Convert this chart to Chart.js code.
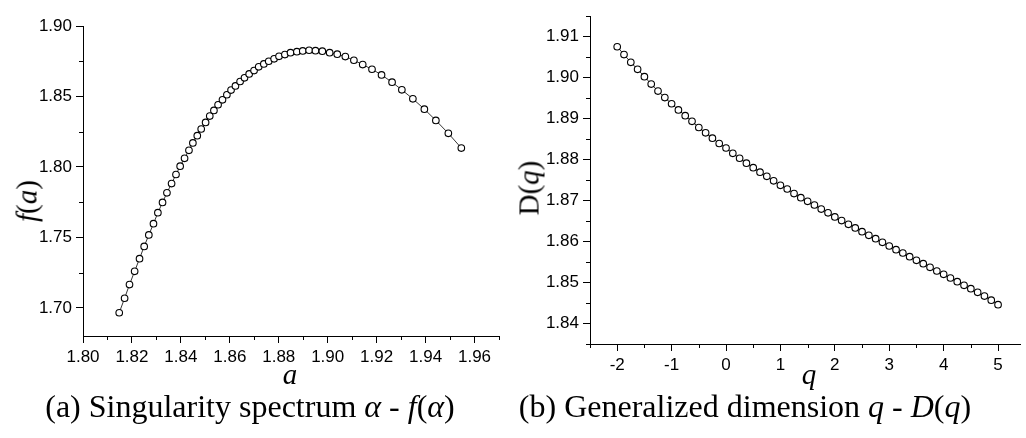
<!DOCTYPE html>
<html>
<head>
<meta charset="utf-8">
<script src="https://cdn.jsdelivr.net/npm/chart.js@4.4.1/dist/chart.umd.min.js"></script>
<style>
  body { margin: 0; background: #fff; }
  #wrap { position: relative; width: 1026px; height: 438px; overflow: hidden; }
  .panel { position: absolute; top: 0; width: 513px; height: 438px; }
  .txt { position: absolute; font-family: "Liberation Serif", "Times New Roman", serif; color: #000; white-space: nowrap; line-height: 1; }
  .ytitle { font-size: 29px; transform: translate(-50%, -50%) rotate(-90deg); }
  .xtitle { font-size: 29px; transform: translateX(-50%); }
  .caption { font-size: 32px; transform: translateX(-50%); }
</style>
</head>
<body>
<div id="wrap">
  <div class="panel" style="left:0"><canvas id="chartA" width="513" height="438"></canvas></div>
  <div class="panel" style="left:513px"><canvas id="chartB" width="513" height="438"></canvas></div>

  <div class="txt ytitle" style="left:27px; top:201px"><i>f</i>(<i>a</i>)</div>
  <div class="txt xtitle" style="left:290px; top:360px"><i>a</i></div>
  <div class="txt caption" style="left:250px; top:390px">(a) Singularity spectrum <i>α</i> - <i>f</i>(<i>α</i>)</div>

  <div class="txt ytitle" style="left:529px; top:188px">D(<i>q</i>)</div>
  <div class="txt xtitle" style="left:809px; top:360px"><i>q</i></div>
  <div class="txt caption" style="left:745px; top:390px">(b) Generalized dimension <i>q</i> - <i>D</i>(<i>q</i>)</div>
</div>

<script>
// (a) singularity spectrum
const alphaVals = [1.8148,1.8170,1.8190,1.8211,1.8231,1.8250,1.8269,1.8288,1.8306,1.8325,
  1.8343,1.8362,1.8380,1.8397,1.8415,1.8433,1.8449,1.8467,1.8483,1.8501,
  1.8518,1.8535,1.8552,1.8570,1.8588,1.8605,1.8623,1.8642,1.8660,1.8679,
  1.8699,1.8718,1.8739,1.8759,1.8781,1.8801,1.8825,1.8848,1.8874,1.8898,
  1.8924,1.8950,1.8978,1.9008,1.9039,1.9072,1.9107,1.9143,1.9181,1.9220,
  1.9263,1.9303,1.9348,1.9395,1.9442,1.9493,1.9546];
const fAlphaVals = [1.6965,1.7068,1.7165,1.7259,1.7349,1.7436,1.7517,1.7597,1.7675,1.7748,
  1.7816,1.7882,1.7946,1.8005,1.8061,1.8118,1.8170,1.8222,1.8269,1.8316,
  1.8361,1.8401,1.8441,1.8476,1.8512,1.8545,1.8575,1.8606,1.8632,1.8660,
  1.8684,1.8710,1.8731,1.8750,1.8767,1.8785,1.8797,1.8811,1.8818,1.8823,
  1.8828,1.8825,1.8821,1.8811,1.8800,1.8783,1.8757,1.8726,1.8693,1.8653,
  1.8601,1.8547,1.8483,1.8410,1.8330,1.8238,1.8134];
const alphaTicks = [1.80, 1.82, 1.84, 1.86, 1.88, 1.90, 1.92, 1.94, 1.96];
const fAlphaTicks = [1.70, 1.75, 1.80, 1.85, 1.90];

// (b) generalized dimension
const qVals = [-2,-1.875,-1.75,-1.625,-1.5,-1.375,-1.25,-1.125,-1,-0.875,
  -0.75,-0.625,-0.5,-0.375,-0.25,-0.125,0,0.125,0.25,0.375,
  0.5,0.625,0.75,0.875,1,1.125,1.25,1.375,1.5,1.625,
  1.75,1.875,2,2.125,2.25,2.375,2.5,2.625,2.75,2.875,
  3,3.125,3.25,3.375,3.5,3.625,3.75,3.875,4,4.125,
  4.25,4.375,4.5,4.625,4.75,4.875,5];
const dqVals = [1.9075,1.9056,1.9037,1.9020,1.9002,1.8984,1.8967,1.8951,1.8936,1.8921,
  1.8907,1.8893,1.8878,1.8865,1.8852,1.8839,1.8828,1.8815,1.8803,1.8791,
  1.8780,1.8769,1.8759,1.8748,1.8737,1.8728,1.8717,1.8707,1.8698,1.8689,
  1.8679,1.8670,1.8660,1.8651,1.8642,1.8633,1.8624,1.8615,1.8607,1.8598,
  1.8589,1.8580,1.8572,1.8563,1.8554,1.8546,1.8537,1.8528,1.8520,1.8511,
  1.8502,1.8493,1.8485,1.8476,1.8467,1.8457,1.8446];
const qTicks = [-2, -1, 0, 1, 2, 3, 4, 5];
const dqTicks = [1.84, 1.85, 1.86, 1.87, 1.88, 1.89, 1.90, 1.91];

// minor ticks halfway between the major ones (and half a step past the ends)
function halfSteps(ticks, min, max) {
  const step = ticks[1] - ticks[0];
  const out = [];
  for (let i = -1; i < ticks.length; i++) {
    const v = ticks[0] + (i + 0.5) * step;
    if (v >= min - 1e-9 && v <= max + 1e-9) out.push(v);
  }
  return out;
}

const minorTicks = {
  id: "minorTicks",
  afterDraw(chart, args, opts) {
    const ctx = chart.ctx;
    const sx = chart.scales.x, sy = chart.scales.y;
    ctx.save();
    ctx.strokeStyle = "#000";
    ctx.lineWidth = 1;
    ctx.beginPath();
    halfSteps(opts.xTicks, sx.min, sx.max).forEach((v) => {
      const px = Math.round(sx.getPixelForValue(v)) + 0.5;
      ctx.moveTo(px, sx.top);
      ctx.lineTo(px, sx.top + 4);
    });
    halfSteps(opts.yTicks, sy.min, sy.max).forEach((v) => {
      const py = Math.round(sy.getPixelForValue(v)) + 0.5;
      ctx.moveTo(sy.right - 4, py);
      ctx.lineTo(sy.right, py);
    });
    ctx.stroke();
    ctx.restore();
  },
};

function makeChart(id, xs, ys, o) {
  const points = xs.map((x, i) => ({ x: x, y: ys[i] }));
  const tickFont = { family: "'Liberation Sans', Arial, sans-serif", size: 17 };
  const axisBase = {
    type: "linear",
    grid: { drawOnChartArea: false, drawTicks: true, tickLength: 7, tickColor: "#000", tickWidth: 1 },
    border: { display: true, color: "#000", width: 1 },
  };
  return new Chart(document.getElementById(id), {
    type: "scatter",
    data: {
      datasets: [{
        data: points,
        showLine: true,
        borderColor: "#000",
        borderWidth: 0.8,
        pointRadius: 3.3,
        pointBorderWidth: 1.1,
        pointBorderColor: "#000",
        pointBackgroundColor: "#fff",
      }],
    },
    options: {
      responsive: false,
      animation: false,
      layout: { padding: o.padding },
      plugins: {
        legend: { display: false },
        tooltip: { enabled: false },
        minorTicks: { xTicks: o.xTicks, yTicks: o.yTicks },
      },
      scales: {
        x: Object.assign({}, axisBase, {
          position: "bottom",
          min: o.xMin, max: o.xMax,
          afterBuildTicks: (s) => { s.ticks = o.xTicks.map((v) => ({ value: v })); },
          afterFit: (s) => { s.height = 60; },
          ticks: { font: tickFont, color: "#000", padding: 4, maxRotation: 0, callback: o.xFmt },
        }),
        y: Object.assign({}, axisBase, {
          position: "left",
          min: o.yMin, max: o.yMax,
          afterBuildTicks: (s) => { s.ticks = o.yTicks.map((v) => ({ value: v })); },
          afterFit: (s) => { s.width = o.yWidth; },
          ticks: { font: tickFont, color: "#000", padding: 4, callback: (v) => v.toFixed(2) },
        }),
      },
    },
    plugins: [minorTicks],
  });
}

makeChart("chartA", alphaVals, fAlphaVals, {
  xMin: 1.80, xMax: 1.97, yMin: 1.68, yMax: 1.90,
  xTicks: alphaTicks, yTicks: fAlphaTicks,
  xFmt: (v) => v.toFixed(2),
  yWidth: 83,
  padding: { left: 0, top: 26, right: 14, bottom: 42 },
});

makeChart("chartB", qVals, dqVals, {
  xMin: -2.5, xMax: 5.42, yMin: 1.835, yMax: 1.915,
  xTicks: qTicks, yTicks: dqTicks,
  xFmt: (v) => String(v),
  yWidth: 77,
  padding: { left: 0, top: 16, right: 0, bottom: 34 },
});
</script>
</body>
</html>
